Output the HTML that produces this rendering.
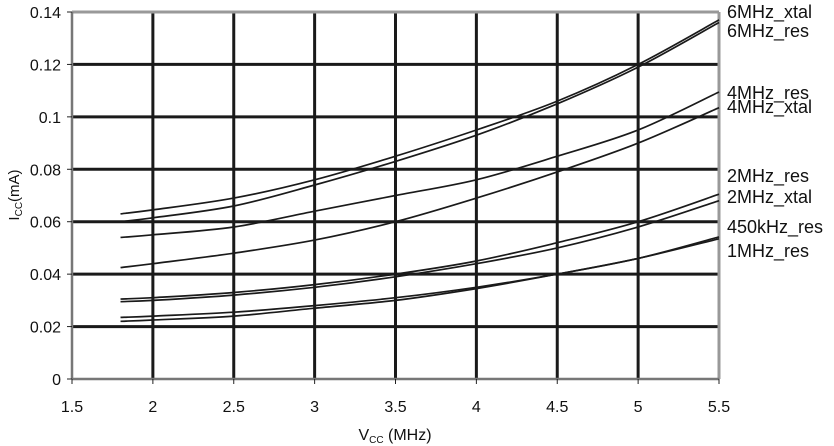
<!DOCTYPE html><html><head><style>body{margin:0;background:#fff}svg{display:block}text{font-family:"Liberation Sans",Arial,sans-serif;fill:#111}</style></head><body>
<svg id="s" width="834" height="446" xmlns="http://www.w3.org/2000/svg">
<g id="grid"></g>
<g id="curves" fill="none" stroke="#1a1a1a" stroke-width="1.7"></g>
<g font-size="16" text-anchor="end" id="yl"></g>
<g font-size="16" text-anchor="middle" id="xl"></g>
<g font-size="18">
<text x="727" y="18">6MHz_xtal</text><text x="727" y="37">6MHz_res</text>
<text x="727" y="99">4MHz_res</text><text x="727" y="113">4MHz_xtal</text>
<text x="727" y="182">2MHz_res</text><text x="727" y="203">2MHz_xtal</text>
<text x="727" y="233">450kHz_res</text><text x="727" y="257">1MHz_res</text>
</g>
<text transform="translate(19,195) rotate(-90)" font-size="15" text-anchor="middle">I<tspan font-size="10" dy="3">CC</tspan><tspan dy="-3">(mA)</tspan></text>
<text x="395" y="440" font-size="16" text-anchor="middle">V<tspan font-size="10" dy="3">CC</tspan><tspan dy="-3"> (MHz)</tspan></text>
</svg>
<script>
var L=72,R=719,T=12,B=379;
function X(v){return L+(v-1.5)/4*(R-L)}function Y(v){return B-v/0.14*(B-T)}
var g=document.getElementById('grid'),h='';
for(var i=1;i<8;i++){var x=X(1.5+i*0.5);h+='<line x1="'+x+'" y1="'+T+'" x2="'+x+'" y2="'+B+'" stroke="#1a1a1a" stroke-width="3"/>';}
for(var i=1;i<7;i++){var y=Y(i*0.02);h+='<line x1="'+L+'" y1="'+y+'" x2="'+R+'" y2="'+y+'" stroke="#1a1a1a" stroke-width="3"/>';}
h+='<line x1="'+L+'" y1="'+T+'" x2="'+R+'" y2="'+T+'" stroke="#999" stroke-width="3"/>';
h+='<line x1="'+R+'" y1="'+T+'" x2="'+R+'" y2="'+B+'" stroke="#999" stroke-width="3"/>';
h+='<line x1="'+L+'" y1="'+T+'" x2="'+L+'" y2="'+B+'" stroke="#777" stroke-width="2.5"/>';
h+='<line x1="'+L+'" y1="'+B+'" x2="'+R+'" y2="'+B+'" stroke="#777" stroke-width="2.5"/>';
for(var i=0;i<9;i++){var x=X(1.5+i*0.5);h+='<line x1="'+x+'" y1="'+B+'" x2="'+x+'" y2="'+(B+5)+'" stroke="#222"/>';}
for(var i=0;i<8;i++){var y=Y(i*0.02);h+='<line x1="'+(L-5)+'" y1="'+y+'" x2="'+L+'" y2="'+y+'" stroke="#222"/>';}
g.innerHTML=h;
var yl='',xl='';
['0','0.02','0.04','0.06','0.08','0.1','0.12','0.14'].forEach(function(t,i){yl+='<text x="61" y="'+(Y(i*0.02)+6)+'">'+t+'</text>'});
['1.5','2','2.5','3','3.5','4','4.5','5','5.5'].forEach(function(t,i){xl+='<text x="'+X(1.5+i*0.5)+'" y="412">'+t+'</text>'});
document.getElementById('yl').innerHTML=yl;document.getElementById('xl').innerHTML=xl;
var xs=[1.8,2,2.5,3,3.5,4,4.5,5,5.5];
var D=[[.063,.0645,.069,.076,.085,.095,.106,.120,.137],
[.060,.0615,.066,.074,.083,.093,.105,.119,.136],
[.054,.055,.058,.064,.070,.076,.085,.095,.1095],
[.0425,.044,.048,.053,.060,.069,.079,.090,.1035],
[.0305,.031,.033,.036,.040,.045,.052,.060,.0705],
[.0295,.030,.032,.035,.039,.044,.050,.058,.068],
[.0235,.024,.0255,.028,.031,.035,.040,.046,.0542],
[.022,.0225,.024,.027,.030,.0345,.040,.046,.0535]];
var c='';D.forEach(function(d){var P=xs.map(function(x,i){return [X(x),Y(d[i])]});
var p='M'+P[0][0]+','+P[0][1];
for(var i=0;i<P.length-1;i++){var p0=P[Math.max(i-1,0)],p1=P[i],p2=P[i+1],p3=P[Math.min(i+2,P.length-1)];
var c1=[p1[0]+(p2[0]-p0[0])/6,p1[1]+(p2[1]-p0[1])/6],c2=[p2[0]-(p3[0]-p1[0])/6,p2[1]-(p3[1]-p1[1])/6];
p+=' C'+c1[0].toFixed(1)+','+c1[1].toFixed(1)+' '+c2[0].toFixed(1)+','+c2[1].toFixed(1)+' '+p2[0].toFixed(1)+','+p2[1].toFixed(1);}
c+='<path d="'+p+'"/>';});
document.getElementById('curves').innerHTML=c;
</script></body></html>
